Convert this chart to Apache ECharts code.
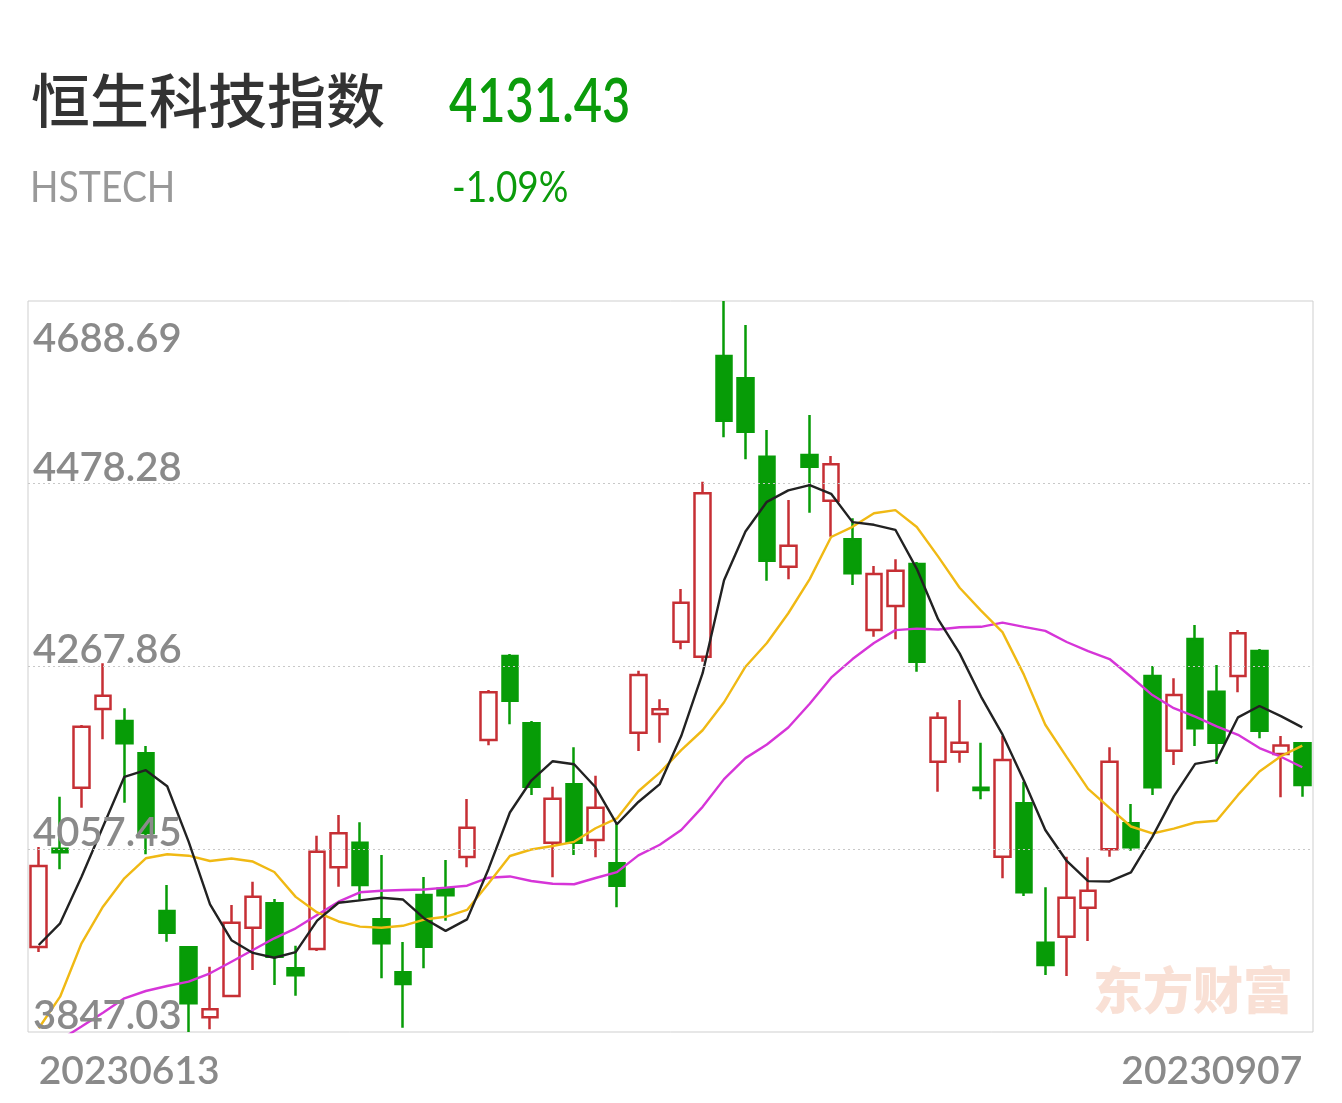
<!DOCTYPE html>
<html><head><meta charset="utf-8">
<script src="https://cdn.jsdelivr.net/npm/echarts@6/dist/echarts.min.js"></script>
<style>html,body{margin:0;padding:0;background:#fff}#c{width:1342px;height:1103px}</style>
</head><body><div id="c"></div>
<script>
const indexName = '恒生科技指数';
const indexCode = 'HSTECH';
const lastPrice = '4131.43';
const changePct = '-1.09%';
const watermark = '东方财富';

const dates = ['20230613','20230614','20230615','20230616','20230619','20230620','20230621','20230623','20230626','20230627','20230628','20230629','20230630',
'20230703','20230704','20230705','20230706','20230707','20230710','20230711','20230712','20230713','20230714','20230718','20230719','20230720','20230721','20230724','20230725','20230726','20230727','20230728','20230731',
'20230801','20230802','20230803','20230804','20230807','20230808','20230809','20230810','20230811','20230814','20230815','20230816','20230817','20230818','20230821','20230822','20230823','20230824','20230825','20230828','20230829','20230830','20230831',
'20230904','20230905','20230906','20230907'];

const opens = [3944.90,4058.08,4128.32,4218.93,4205.11,4167.92,3986.35,3944.56,3863.96,3888.49,
3967.12,3995.22,3920.38,3942.60,4036.67,4064.99,3976.80,3915.77,4004.77,4012.03,
4048.53,4183.24,4279.95,4202.47,4064.99,4132.23,4068.10,4041.27,4191.64,4213.17,
4296.42,4279.15,4625.37,4599.69,4509.42,4382.77,4511.38,4458.76,4414.32,4309.89,
4337.52,4385.88,4158.25,4169.77,4128.32,4048.87,4110.34,3949.85,3956.76,3990.15,
4057.39,4087.33,4256.93,4170.92,4299.53,4238.85,4256.93,4285.71,4167.12,4179.44];

const closes = [4038.16,4053.94,4198.55,4234.25,4179.44,4076.16,3961.37,3880.08,3873.17,3972.88,
4002.82,3933.74,3912.32,4054.63,4075.82,4016.29,3949.16,3902.30,3945.25,4004.43,
4082.26,4238.16,4228.49,4129.47,4115.65,4064.99,4105.29,4015.48,4258.08,4218.59,
4341.32,4467.28,4550.88,4538.21,4389.68,4406.95,4497.91,4500.67,4375.17,4374.37,
4378.17,4273.39,4208.91,4180.13,4125.67,4160.21,4007.88,3924.18,4001.67,4009.73,
4158.25,4059.70,4128.78,4235.05,4196.71,4180.13,4306.08,4193.95,4176.95,4131.43];

const lows = [3939.15,4034.37,4105.29,4184.04,4111.05,4051.64,3951.00,3847.03,3850.14,3886.99,
3918.42,3901.15,3888.83,3940.30,4014.33,3999.02,3908.86,3851.99,3920.38,3975.18,
4036.67,4177.14,4201.31,4119.91,4025.15,4050.83,4048.18,3990.61,4170.57,4180.13,
4287.67,4273.39,4531.76,4506.43,4366.65,4368.26,4444.95,4417.31,4361.70,4302.18,
4299.18,4261.88,4123.71,4157.10,4114.96,4024.00,4003.62,3912.66,3911.51,3951.81,
4048.87,4055.78,4119.91,4154.45,4176.33,4155.61,4238.16,4185.19,4117.26,4117.96];

const highs = [4060.04,4117.96,4200.51,4271.50,4219.74,4176.33,4016.29,3946.05,3922.22,3993.26,
4020.09,4000.17,3946.40,4073.05,4096.89,4088.48,4050.83,3950.66,4025.50,4045.07,
4115.31,4240.81,4282.26,4205.11,4129.47,4174.83,4142.13,4088.83,4263.03,4230.10,
4357.10,4480.64,4688.69,4661.06,4540.17,4459.57,4557.44,4510.23,4438.50,4383.58,
4391.29,4388.18,4215.13,4229.29,4180.13,4187.84,4135.23,4013.64,4048.87,4048.18,
4174.83,4109.55,4268.44,4254.28,4315.65,4269.59,4309.89,4288.01,4187.84,4180.50];

const ma5 = [3947.21,3972.19,4025.85,4083.41,4140.87,4148.47,4129.95,4066.26,3994.04,3952.73,
3938.06,3932.54,3938.99,3975.28,3995.87,3998.56,4001.64,3999.64,3977.76,3963.49,
3976.68,4034.48,4099.72,4136.56,4158.81,4155.35,4128.78,4086.18,4111.90,4132.49,
4187.75,4260.15,4367.23,4423.26,4457.47,4470.60,4476.73,4466.68,4434.08,4431.01,
4425.26,4380.35,4322.00,4282.99,4233.25,4189.66,4136.56,4079.61,4043.92,4020.73,
4020.34,4030.71,4071.63,4118.30,4155.70,4160.07,4209.35,4222.38,4210.76,4197.71];

const ma10 = [3851.30,3887.68,3949.16,3991.30,4024.00,4047.03,4051.64,4050.02,4043.92,4046.80,
4043.27,4031.25,4002.62,3984.66,3974.30,3968.31,3967.09,3969.31,3976.52,3979.68,
3987.62,4018.06,4049.68,4057.16,4061.15,4066.02,4081.63,4092.95,4124.23,4145.65,
4171.55,4194.46,4226.70,4267.58,4294.98,4329.18,4368.44,4416.96,4428.67,4444.24,
4447.93,4428.54,4394.34,4358.54,4332.13,4307.46,4258.46,4200.81,4163.46,4126.99,
4105.00,4083.63,4075.62,4081.11,4088.22,4090.21,4120.03,4147.01,4164.53,4176.70];

const ma20 = [3821.71,3837.82,3853.37,3869.26,3885.83,3894.24,3900.00,3904.95,3914.62,3927.98,
3941.45,3954.92,3966.43,3981.75,3997.05,4007.88,4009.73,4010.53,4011.10,4013.24,
4015.44,4024.65,4026.15,4020.91,4017.72,4017.16,4024.36,4031.13,4050.38,4062.66,
4079.59,4106.26,4138.19,4162.37,4178.06,4197.60,4225.03,4254.95,4276.45,4294.95,
4309.74,4311.50,4310.52,4313.06,4313.56,4318.32,4313.45,4308.88,4296.06,4285.62,
4276.47,4256.09,4234.98,4219.82,4210.18,4198.83,4189.24,4173.91,4164.00,4151.85];

const yTicks = [3847.03, 4057.45, 4267.86, 4478.28, 4688.69];

const UP = '#c62f34';
const DOWN = '#079c07';
const LABEL_GRAY = '#8a8a8a';
const NUM_FONT = 'Lato';

const kData = dates.map((d, i) => [opens[i], closes[i], lows[i], highs[i]]);
const yMin = yTicks[0], yMax = yTicks[yTicks.length - 1];

const chart = echarts.init(document.getElementById('c'));
chart.setOption({
  animation: false,
  backgroundColor: '#ffffff',
  grid: { left: 28, top: 301, width: 1285, height: 731, show: true, borderColor: '#cfcfcf', borderWidth: 1 },
  xAxis: {
    type: 'category', data: dates, boundaryGap: true,
    axisLine: { show: false }, axisTick: { show: false }, splitLine: { show: false },
    axisLabel: {
      interval: (i) => i === 0 || i === dates.length - 1,
      margin: 20, color: LABEL_GRAY, fontSize: 39, fontWeight: 600, fontFamily: NUM_FONT,
      alignMinLabel: 'left', alignMaxLabel: 'right', showMinLabel: true, showMaxLabel: true
    }
  },
  yAxis: {
    type: 'value', min: yMin, max: yMax, position: 'left', z: 10,
    axisLine: { show: false },
    axisTick: { show: false, customValues: yTicks },
    splitLine: { show: true, showMinLine: false, showMaxLine: false, lineStyle: { color: '#c8c8c8', type: [2, 3], width: 1 } },
    axisLabel: {
      inside: true, margin: 5, customValues: yTicks,
      color: LABEL_GRAY, fontSize: 40, fontWeight: 600, fontFamily: NUM_FONT, lineHeight: 32,
      verticalAlign: 'bottom', verticalAlignMaxLabel: 'top',
      formatter: (v) => Math.abs(v - yMax) < 0.01 ? '{top|' + v.toFixed(2) + '}' : v.toFixed(2),
      rich: { top: { padding: [44, 0, 0, 0], color: LABEL_GRAY, fontSize: 40, fontWeight: 600, fontFamily: NUM_FONT, lineHeight: 32 } }
    }
  },
  graphic: [
    { type: 'text', x: 31, y: 101, style: { text: indexName, fill: '#333333', font: '500 59px "Noto Sans CJK SC"', verticalAlign: 'middle' } },
    { type: 'text', x: 449, y: 102, scaleX: 0.8, style: { text: lastPrice, fill: '#0b9b0b', font: '600 61px ' + NUM_FONT, verticalAlign: 'middle' } },
    { type: 'text', x: 30, y: 188, scaleX: 0.89, style: { text: indexCode, fill: '#999999', font: '42px ' + NUM_FONT, verticalAlign: 'middle' } },
    { type: 'text', x: 452, y: 188, scaleX: 0.88, style: { text: changePct, fill: '#0b9b0b', font: '42px ' + NUM_FONT, verticalAlign: 'middle' } },
    { type: 'text', x: 1193, y: 990, z: 0, style: { text: watermark, fill: '#f9e0d5', font: '900 50px "Noto Sans CJK SC"', align: 'center', verticalAlign: 'middle' } }
  ],
  series: [
    {
      type: 'candlestick', data: kData, barWidth: 16,
      itemStyle: { color: '#ffffff', color0: DOWN, borderColor: UP, borderColor0: DOWN, borderWidth: 2.5 }
    },
    { type: 'line', data: ma20, showSymbol: false, symbol: 'none', lineStyle: { color: '#d635d8', width: 2.4 }, z: 3 },
    { type: 'line', data: ma10, showSymbol: false, symbol: 'none', lineStyle: { color: '#f0b914', width: 2.4 }, z: 3 },
    { type: 'line', data: ma5, showSymbol: false, symbol: 'none', lineStyle: { color: '#222222', width: 2.4 }, z: 3 }
  ]
});
</script></body></html>
